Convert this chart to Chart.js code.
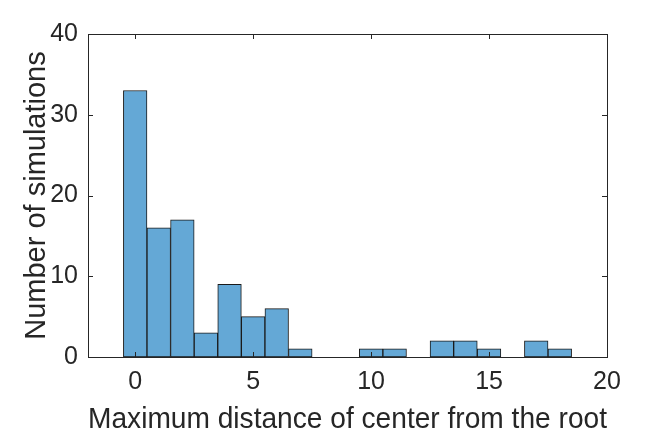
<!DOCTYPE html>
<html>
<head>
<meta charset="utf-8">
<script src="https://cdn.jsdelivr.net/npm/chart.js@4.4.0/dist/chart.umd.min.js"></script>
<style>
  html, body { margin: 0; padding: 0; background: #fff; }
  #wrap { width: 672px; height: 437px; }
</style>
</head>
<body>
<div id="wrap"><canvas id="myChart"></canvas></div>
<script>
// histogram bins (centers) and counts
var binCenters = [0, 1, 2, 3, 4, 5, 6, 7, 8, 9, 10, 11, 12, 13, 14, 15, 16, 17, 18];
var counts     = [33, 16, 17, 3, 9, 5, 6, 1, 0, 0, 1, 1, 0, 2, 2, 1, 0, 2, 1];
var xTicks = [0, 5, 10, 15, 20];
var yTicks = [0, 10, 20, 30, 40];

var axisColor = '#262626';
var fontFam = 'Liberation Sans, Arial, sans-serif';

// box around the plot + inward ticks, like matlab
var boxPlugin = {
  id: 'box',
  afterDraw: function(chart) {
    var ctx = chart.ctx;
    var a = chart.chartArea;
    var xs = chart.scales.x, ys = chart.scales.y;
    var len = 5;
    ctx.save();
    ctx.strokeStyle = axisColor;
    ctx.lineWidth = 1;
    ctx.beginPath();
    xTicks.forEach(function(v){
      var px = Math.round(xs.getPixelForValue(v)) + 0.5;
      ctx.moveTo(px, a.bottom); ctx.lineTo(px, a.bottom - len);
      ctx.moveTo(px, a.top); ctx.lineTo(px, a.top + len);
    });
    yTicks.forEach(function(v){
      var py = Math.round(ys.getPixelForValue(v)) + 0.5;
      ctx.moveTo(a.left, py); ctx.lineTo(a.left + len, py);
      ctx.moveTo(a.right, py); ctx.lineTo(a.right - len, py);
    });
    ctx.stroke();
    ctx.strokeRect(Math.round(a.left) + 0.5, Math.round(a.top) + 0.5,
                   Math.round(a.right - a.left), Math.round(a.bottom - a.top));
    ctx.restore();
  }
};

const myCt = document.getElementById('myChart');
new Chart(myCt, {
  type: 'bar',
  data: {
    datasets: [{
      data: binCenters.map(function(c, i){ return {x: c, y: counts[i] || null}; }),
      backgroundColor: 'rgb(100,168,214)',
      borderColor: '#1a1a1a',
      borderWidth: 1,
      borderSkipped: false,
      barPercentage: 1,
      categoryPercentage: 1
    }]
  },
  options: {
    responsive: true,
    maintainAspectRatio: false,
    animation: false,
    events: [],
    layout: { padding: { top: 34, right: 65, left: 20, bottom: 0 } },
    plugins: { legend: { display: false }, tooltip: { enabled: false } },
    scales: {
      x: {
        type: 'linear',
        min: -2, max: 20,
        offset: false,
        afterBuildTicks: function(s){ s.ticks = xTicks.map(function(v){ return {value: v}; }); },
        afterFit: function(s){ s.height = 80; },
        grid: { display: false, drawTicks: false, offset: false },
        border: { display: false },
        ticks: { color: axisColor, padding: 10, maxRotation: 0,
                 font: { family: fontFam, size: 25 } },
        title: { display: true, text: 'Maximum distance of center from the root', color: axisColor,
                 padding: { top: 0, bottom: 0 },
                 font: { family: fontFam, size: 29 } }
      },
      y: {
        min: 0, max: 40,
        afterBuildTicks: function(s){ s.ticks = yTicks.map(function(v){ return {value: v}; }); },
        afterFit: function(s){ s.width = 68; },
        grid: { display: false, drawTicks: false },
        border: { display: false },
        ticks: { color: axisColor, padding: 10,
                 font: { family: fontFam, size: 25 } },
        title: { display: true, text: 'Number of simulations', color: axisColor,
                 padding: { top: 0, bottom: 0 },
                 font: { family: fontFam, size: 29 } }
      }
    }
  },
  plugins: [boxPlugin]
});
</script>
</body>
</html>
